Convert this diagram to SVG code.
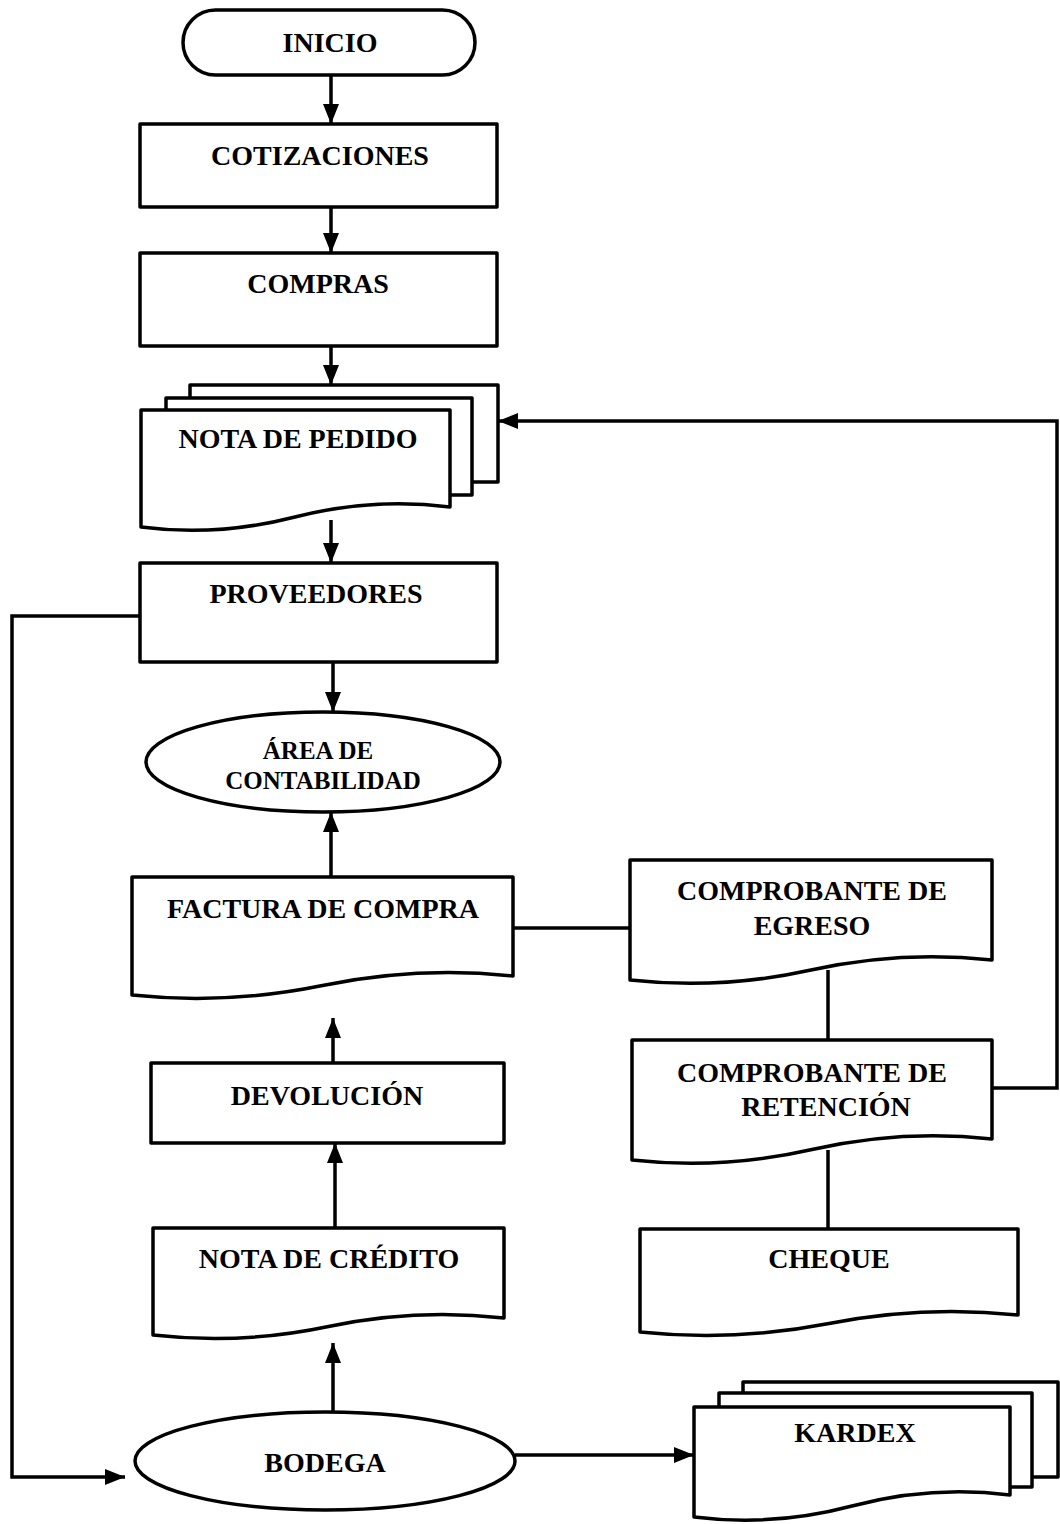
<svg xmlns="http://www.w3.org/2000/svg" width="1060" height="1524" viewBox="0 0 1060 1524">
<defs>
<marker id="ah" markerUnits="userSpaceOnUse" markerWidth="22" markerHeight="18" refX="20" refY="8" orient="auto">
<path d="M0,0 L20,8 L0,16 z" fill="#000"/>
</marker>
<style>
.s{fill:#fff;stroke:#000;stroke-width:3.5;stroke-linejoin:round}
.c{fill:none;stroke:#000;stroke-width:3.5}
.a{fill:none;stroke:#000;stroke-width:3.5;marker-end:url(#ah)}
text{font-family:"Liberation Serif","Times New Roman",serif;font-weight:bold;font-size:28px;text-anchor:middle;fill:#000}
.sm{font-size:25px}
</style>
</defs>
<rect width="1060" height="1524" fill="#fff"/>
<g id="connectors">
<line class="a" x1="331" y1="75" x2="331" y2="124"/>
<line class="a" x1="331" y1="207" x2="331" y2="253"/>
<line class="a" x1="331" y1="346" x2="331" y2="385"/>
<line class="a" x1="331" y1="520" x2="331" y2="563"/>
<line class="a" x1="333" y1="662" x2="333" y2="712"/>
<line class="a" x1="331" y1="877" x2="331" y2="812"/>
<line class="a" x1="333" y1="1063" x2="333" y2="1018"/>
<line class="a" x1="335" y1="1228" x2="335" y2="1143"/>
<line class="a" x1="333" y1="1412" x2="333" y2="1343"/>
<line class="a" x1="515" y1="1455" x2="694" y2="1455"/>
<polyline class="a" points="140,616 12,616 12,1477 125,1477"/>
<polyline class="a" points="992,1088 1057,1088 1057,421 498,421"/>
<line class="c" x1="513" y1="928" x2="630" y2="928"/>
<line class="c" x1="828" y1="970" x2="828" y2="1040"/>
<line class="c" x1="828" y1="1150" x2="828" y2="1229"/>
</g>
<g id="inicio">
<rect class="s" x="183" y="10" width="292" height="65" rx="32.5"/>
<text x="330" y="52">INICIO</text>
</g>
<g id="cotizaciones">
<rect class="s" x="140" y="124" width="357" height="83"/>
<text x="320" y="165">COTIZACIONES</text>
</g>
<g id="compras">
<rect class="s" x="140" y="253" width="357" height="93"/>
<text x="318" y="293">COMPRAS</text>
</g>
<g id="nota-pedido">
<rect class="s" x="190" y="385" width="308" height="97"/>
<rect class="s" x="166" y="398" width="306" height="97"/>
<path class="s" d="M141,527 V410 H450 V507 Q373,497 295,517 T141,527 Z"/>
<text x="298" y="448">NOTA DE PEDIDO</text>
</g>
<g id="proveedores">
<rect class="s" x="140" y="563" width="357" height="99"/>
<text x="316" y="603">PROVEEDORES</text>
</g>
<g id="area-contabilidad">
<ellipse class="s" cx="323" cy="762" rx="177" ry="50"/>
<text class="sm" x="318" y="759">ÁREA DE</text>
<text class="sm" x="323" y="789">CONTABILIDAD</text>
</g>
<g id="factura">
<path class="s" d="M132,995 V877 H513 V976 Q418,966 322.5,985.5 T132,995 Z"/>
<text x="323" y="918">FACTURA DE COMPRA</text>
</g>
<g id="egreso">
<path class="s" d="M630,980 V860 H992 V960 Q901,950 811,970 T630,980 Z"/>
<text x="812" y="900">COMPROBANTE DE</text>
<text x="812" y="935">EGRESO</text>
</g>
<g id="devolucion">
<rect class="s" x="151" y="1063" width="353" height="80"/>
<text x="327" y="1105">DEVOLUCIÓN</text>
</g>
<g id="retencion">
<path class="s" d="M632,1160 V1040 H992 V1139 Q902,1129 812,1149.5 T632,1160 Z"/>
<text x="812" y="1082">COMPROBANTE DE</text>
<text x="826" y="1116">RETENCIÓN</text>
</g>
<g id="nota-credito">
<path class="s" d="M153,1335 V1228 H504 V1318 Q416,1308 328.5,1326.5 T153,1335 Z"/>
<text x="329" y="1268">NOTA DE CRÉDITO</text>
</g>
<g id="cheque">
<path class="s" d="M640,1332 V1229 H1018 V1315 Q923.5,1305 829,1323.5 T640,1332 Z"/>
<text x="829" y="1268">CHEQUE</text>
</g>
<g id="bodega">
<ellipse class="s" cx="325" cy="1461" rx="190" ry="49"/>
<text x="325" y="1472">BODEGA</text>
</g>
<g id="kardex">
<rect class="s" x="743" y="1382" width="315" height="95"/>
<rect class="s" x="719" y="1393" width="313" height="94"/>
<path class="s" d="M694,1517 V1407 H1010 V1495 Q931,1485 852,1506 T694,1517 Z"/>
<text x="855" y="1442">KARDEX</text>
</g>
</svg>
